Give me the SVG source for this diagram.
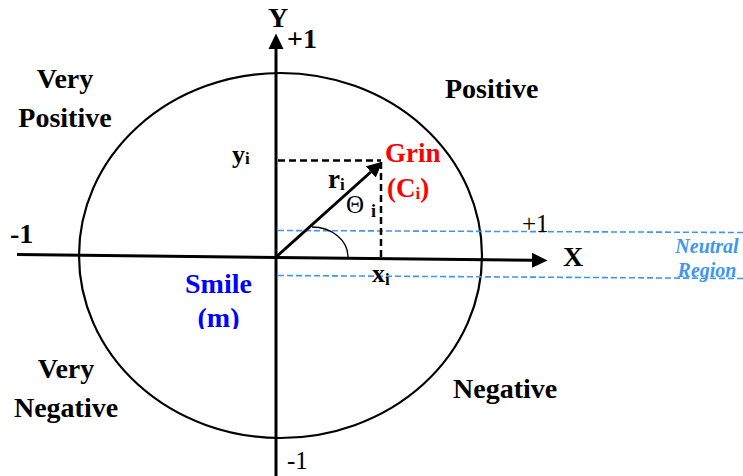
<svg xmlns="http://www.w3.org/2000/svg" width="743" height="476" viewBox="0 0 743 476">
<style>
.t{font-family:"Liberation Serif","Times New Roman",serif;font-weight:bold;font-size:28px;fill:#000}
.r{font-weight:normal}
.sub{font-size:17px}
.red{fill:#ff0000}
.blue{fill:#0000ff}
.neu{font-family:"Liberation Serif","Times New Roman",serif;font-weight:bold;font-style:italic;font-size:20px;fill:#3d97f0}
.ax{stroke:#000;stroke-width:3;fill:none}
.dk{stroke:#000;stroke-width:2.5;stroke-dasharray:7 4;fill:none}
.db{stroke:#3d97f0;stroke-width:1.6;stroke-dasharray:6 3;fill:none}
</style>
<defs>
<marker id="ah" markerUnits="userSpaceOnUse" markerWidth="16" markerHeight="16" viewBox="0 0 16 16" refX="0" refY="8" orient="auto">
<path d="M0,0.5 L15.5,8 L0,15.5 z" fill="#000"/>
</marker>
<clipPath id="cm"><rect x="0" y="0" width="743" height="329"/></clipPath>
</defs>
<rect width="743" height="476" fill="#fff"/>
<g id="circle">
<ellipse cx="280.5" cy="255.5" rx="201.5" ry="182.5" fill="none" stroke="#000" stroke-width="2.2"/>
</g>
<g id="connectors">
<line class="db" x1="278" y1="230.5" x2="743" y2="232.5"/>
<line class="db" x1="278" y1="275.5" x2="743" y2="278.5"/>
<line class="ax" x1="276" y1="476" x2="276" y2="49" marker-end="url(#ah)"/>
<line class="ax" x1="17" y1="254.5" x2="532" y2="260.3" marker-end="url(#ah)"/>
<line class="ax" x1="276" y1="257" x2="370.8" y2="172" marker-end="url(#ah)"/>
<line class="dk" x1="278" y1="160.5" x2="381" y2="160.5"/>
<line class="dk" x1="381" y1="162" x2="381" y2="258"/>
<path d="M312,227 A36,30 0 0 1 348,257" fill="none" stroke="#000" stroke-width="1.3"/>
</g>
<g id="axis-labels">
<text class="t" x="268" y="27">Y</text>
<text class="t" x="287" y="48">+1</text>
<text class="t" x="10" y="243">-1</text>
<text class="t r" x="522" y="232" style="font-size:25px">+1</text>
<text class="t" x="563" y="266">X</text>
<text class="t r" x="287" y="469" style="font-size:25px">-1</text>
</g>
<g id="very-positive"><text class="t" text-anchor="middle"><tspan x="65" y="88">Very</tspan><tspan x="65" y="127">Positive</tspan></text></g>
<g id="positive"><text class="t" x="445" y="98">Positive</text></g>
<g id="very-negative"><text class="t" text-anchor="middle"><tspan x="66" y="378">Very</tspan><tspan x="66" y="417">Negative</tspan></text></g>
<g id="negative"><text class="t" x="453" y="398">Negative</text></g>
<g id="grin"><text class="t red" x="385" y="162" style="font-size:27px">Grin</text><text class="t red" x="387" y="197" style="font-size:27px">(C<tspan class="sub" dy="2">i</tspan><tspan dy="-2">)</tspan></text></g>
<g id="smile"><text class="t blue" x="218.5" y="293" text-anchor="middle">Smile</text><text class="t blue" x="218.5" y="327" text-anchor="middle" clip-path="url(#cm)">(m)</text></g>
<g id="vector-labels">
<text class="t" x="232" y="163" style="font-size:26px">y<tspan class="sub" dy="1">i</tspan></text>
<text class="t" x="328" y="188" style="font-size:27px">r<tspan class="sub" dy="2">i</tspan></text>
<text class="t r" x="346" y="213" style="font-size:25px">Θ</text>
<text class="t" x="371" y="217" style="font-size:18px">i</text>
<text class="t" x="372" y="282" style="font-size:26px">x<tspan class="sub" dy="3">i</tspan></text>
</g>
<g id="neutral-region"><text class="neu" text-anchor="middle"><tspan x="707" y="253">Neutral</tspan><tspan x="707" y="277">Region</tspan></text></g>
</svg>
